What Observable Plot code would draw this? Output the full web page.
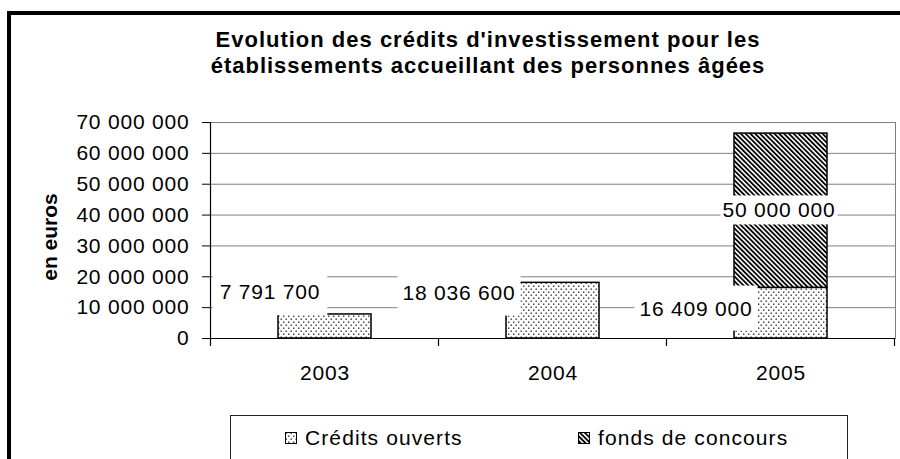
<!DOCTYPE html>
<html>
<head>
<meta charset="utf-8">
<script src="https://cdn.jsdelivr.net/npm/d3@7"></script>
<script src="https://cdn.jsdelivr.net/npm/@observablehq/plot@0.6"></script>
<style>
  body { margin: 0; background: #fff; }
  #wrap { position: relative; width: 900px; height: 459px; overflow: hidden; font-family: "Liberation Sans", Arial, sans-serif; color: #000; background: #fff; }
  #chart { position: absolute; left: 0; top: 0; }
  #chart svg text { letter-spacing: 0.8px; }
  #frame { position: absolute; left: 7px; top: 11px; width: 1000px; height: 1000px; border: 4px solid #000; pointer-events: none; }
  #title { position: absolute; left: 0; width: 976px; top: 27px; text-align: center; font-weight: bold; font-size: 22px; letter-spacing: 1px; line-height: 26px; }
  #ylabel { position: absolute; left: 50px; top: 237px; transform: translate(-50%, -50%) rotate(-90deg); font-weight: bold; font-size: 21px; white-space: nowrap; }
  #legend { position: absolute; left: 230px; top: 415px; width: 616px; height: 80px; border: 1px solid #222; }
  .item { position: absolute; top: 10px; height: 24px; display: flex; align-items: center; font-size: 21px; letter-spacing: 1.1px; white-space: nowrap; }
  .item svg { margin-right: 8px; }
</style>
</head>
<body>
<div id="wrap">
  <div id="chart"></div>
  <div id="title">Evolution des crédits d'investissement pour les<br>établissements accueillant des personnes âgées</div>
  <div id="ylabel">en euros</div>
  <div id="legend"></div>
  <div id="frame"></div>
</div>
<script>
// ---- data ----
const years = ["2003", "2004", "2005"];
const series = ["Crédits ouverts", "fonds de concours"];
const creditsOuverts = [7791700, 18036600, 16409000];
const fondsDeConcours = [0, 0, 50000000];
const yTicks = [0, 10000000, 20000000, 30000000, 40000000, 50000000, 60000000, 70000000];

const fmt = d => d3.format(",")(d).replace(/,/g, " ");
const patternIds = ["dots", "hatch"];

const rows = [];
years.forEach((y, i) => {
  rows.push({year: y, series: series[0], value: creditsOuverts[i]});
  if (fondsDeConcours[i] > 0) rows.push({year: y, series: series[1], value: fondsDeConcours[i]});
});

const labels = [
  {year: years[0], y: creditsOuverts[0], text: fmt(creditsOuverts[0])},
  {year: years[1], y: creditsOuverts[1], text: fmt(creditsOuverts[1])},
  {year: years[2], y: creditsOuverts[2], text: fmt(creditsOuverts[2])},
  {year: years[2], y: creditsOuverts[2] + fondsDeConcours[2] / 2, text: fmt(fondsDeConcours[2])}
];
// label placement styles (offsets from anchor, white box padding)
const labelStyle = [
  {dx: -55, dy: -22, px: 7, py: 12},
  {dx: -94, dy: 10, px: 5, py: 12},
  {dx: -85, dy: 21, px: 5, py: 11},
  {dx: -2, dy: 0, px: 2, py: 3}
];

const chart = Plot.plot({
  width: 900,
  height: 459,
  marginLeft: 210,
  marginRight: 5,
  marginTop: 122,
  marginBottom: 121,
  style: {fontFamily: "'Liberation Sans', Arial, sans-serif", fontSize: "21px", background: "transparent", color: "#000"},
  x: {domain: years, paddingInner: 0.59, paddingOuter: 0.295, label: null},
  y: {domain: [0, 70000000], label: null},
  color: {domain: series, range: patternIds.map(id => `url(#${id})`)},
  marks: [
    Plot.gridY(yTicks.slice(1, -1), {stroke: "#808080", strokeOpacity: 1, strokeWidth: 1}),
    Plot.frame({stroke: "#808080", strokeWidth: 1}),
    Plot.barY(rows, {x: "year", y: "value", fill: "series", stroke: "#000", strokeWidth: 1.5}),
    Plot.ruleY([0], {stroke: "#000", strokeWidth: 1.2}),
    Plot.axisY({ticks: yTicks, tickFormat: fmt, tickSize: 8, tickPadding: 13, fontSize: 21, stroke: "#000", label: null}),
    Plot.axisX({tickSize: 0, tickPadding: 27, fontSize: 21, label: null}),
    ...labels.map((d, i) => Plot.text([d], {
      x: "year", y: "y", text: "text", dx: labelStyle[i].dx, dy: labelStyle[i].dy,
      fontSize: 21, fill: "#000"
    }))
  ]
});

document.getElementById("chart").appendChild(chart);

// ---- patterns ----
function addPatterns(svgSel) {
  const defs = svgSel.insert("defs", ":first-child");
  const p1 = defs.append("pattern").attr("id", "dots").attr("patternUnits", "userSpaceOnUse")
    .attr("width", 5).attr("height", 6);
  p1.append("rect").attr("width", 5).attr("height", 6).attr("fill", "#fff");
  p1.append("rect").attr("x", 0.5).attr("y", 0.5).attr("width", 1.4).attr("height", 1.4).attr("fill", "#333");
  p1.append("rect").attr("x", 3).attr("y", 3.5).attr("width", 1.4).attr("height", 1.4).attr("fill", "#333");
  const p2 = defs.append("pattern").attr("id", "hatch").attr("patternUnits", "userSpaceOnUse")
    .attr("width", 3.4).attr("height", 3.4).attr("patternTransform", "rotate(-45)");
  p2.append("rect").attr("width", 3.4).attr("height", 3.4).attr("fill", "#fff");
  p2.append("rect").attr("width", 1.8).attr("height", 3.4).attr("fill", "#000");
}
const svg = d3.select(chart);
addPatterns(svg);

// ---- axis line and category boundary ticks (from Plot scales) ----
const xs = chart.scale("x"), ys = chart.scale("y");
const y0 = ys.apply(0), yTop = ys.apply(70000000);
const gap = (xs.step - xs.bandwidth) / 2;
const bounds = years.map(y => xs.apply(y) - gap);
bounds.push(xs.apply(years[years.length - 1]) + xs.bandwidth + gap);
const axisG = svg.append("g").attr("stroke", "#000").attr("stroke-width", 1.2);
axisG.append("line").attr("x1", bounds[0]).attr("x2", bounds[0]).attr("y1", yTop).attr("y2", y0 + 8);
bounds.slice(1).forEach(b => axisG.append("line").attr("x1", b).attr("x2", b).attr("y1", y0).attr("y2", y0 + 8));

// ---- white boxes behind data labels ----
const allTexts = Array.from(chart.querySelectorAll("text"));
labels.forEach((d, i) => {
  const s = labelStyle[i];
  const matches = allTexts.filter(el => el.textContent.trim() === d.text);
  const t = matches[matches.length - 1];
  if (!t) return;
  const parent = t.parentNode;
  const b = t.getBBox();
  const r = document.createElementNS("http://www.w3.org/2000/svg", "rect");
  r.setAttribute("x", b.x - s.px);
  r.setAttribute("y", b.y - s.py);
  r.setAttribute("width", b.width + 2 * s.px);
  r.setAttribute("height", b.height + 2 * s.py);
  r.setAttribute("fill", "#fff");
  const tr = t.getAttribute("transform");
  if (tr) r.setAttribute("transform", tr);
  parent.insertBefore(r, t);
  chart.appendChild(parent);
});

// ---- legend ----
const legend = d3.select("#legend");
const legendPos = [54, 347];
series.forEach((s, i) => {
  const item = legend.append("div").attr("class", "item").style("left", legendPos[i] + "px");
  const sw = item.append("svg").attr("width", 12).attr("height", 12);
  sw.append("rect").attr("x", 0.5).attr("y", 0.5).attr("width", 11).attr("height", 11)
    .attr("fill", `url(#${patternIds[i]})`).attr("stroke", "#000").attr("stroke-width", 1);
  item.append("span").text(s);
});
</script>
</body>
</html>
